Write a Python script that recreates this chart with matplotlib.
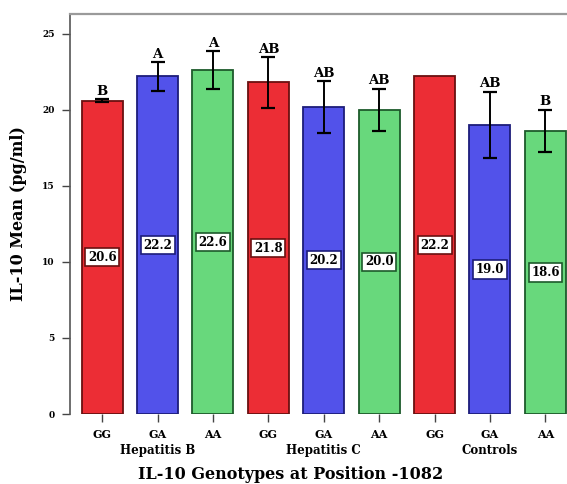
import matplotlib.pyplot as plt
import numpy as np

plt.rcParams['font.family'] = ['DejaVu Serif']

# IL-10 mean levels by genotype at position -1082, per patient group
genotypes = ['GG', 'GA', 'AA', 'GG', 'GA', 'AA', 'GG', 'GA', 'AA']
groups = ['Hepatitis B', 'Hepatitis C', 'Controls']
means = [20.6, 22.2, 22.6, 21.8, 20.2, 20.0, 22.2, 19.0, 18.6]
errors = [0.1, 0.95, 1.25, 1.65, 1.7, 1.4, 0.0, 2.2, 1.4]
letters = ['B', 'A', 'A', 'AB', 'AB', 'AB', '', 'AB', 'B']

face = {'GG': '#ec2d35', 'GA': '#5252ea', 'AA': '#68d87c'}
edge = {'GG': '#6a1010', 'GA': '#1c1c7a', 'AA': '#1d5a2b'}


def main():
    fig = plt.figure(figsize=(5.67, 4.84), dpi=100)
    ax = fig.add_axes([0.1235, 0.1446, 0.8765, 0.8265])

    x = np.arange(len(means))
    fcols = [face[g] for g in genotypes]
    ecols = [edge[g] for g in genotypes]
    ax.bar(x, means, width=0.74, color=fcols, edgecolor=ecols, linewidth=1.3, zorder=2)

    # error bars, skipping the group without spread
    for xi, m, e in zip(x, means, errors):
        if e > 0:
            ax.errorbar(xi, m, yerr=e, color='black', capsize=5, capthick=1.6,
                        elinewidth=1.4, zorder=3)

    # significance letters over each bar
    for xi, m, e, lab in zip(x, means, errors, letters):
        if lab:
            ax.annotate(lab, (xi, m + e), xytext=(0, 1), textcoords='offset points',
                        ha='center', va='bottom', fontsize=9.5, fontweight='bold', zorder=4)

    # boxed value labels half way up the bars
    for xi, m, ec in zip(x, means, ecols):
        ax.text(xi, m / 2, f'{m:.1f}', ha='center', va='center', fontsize=8.5,
                fontweight='bold', zorder=4,
                bbox=dict(boxstyle='square,pad=0.22', facecolor='white',
                          edgecolor=ec, linewidth=1.2))

    ax.set_xlim(-0.58, 8.39)
    ax.set_ylim(0, 26.3)
    ax.set_xticks(x)
    ax.set_xticklabels(genotypes, fontsize=8, fontweight='bold')
    ax.set_yticks([0, 5, 10, 15, 20, 25])
    ax.set_yticklabels(['0', '5', '10', '15', '20', '25'], fontsize=6.5, fontweight='bold')
    ax.tick_params(axis='both', length=6, width=1, color='#444444', pad=5)

    for i, g in enumerate(groups):
        ax.text(3 * i + 1, -0.09, g, transform=ax.get_xaxis_transform(),
                ha='center', va='center', fontsize=8.5, fontweight='bold')

    fig.text(0.512, 0.02, 'IL-10 Genotypes at Position -1082',
             ha='center', va='center', fontsize=11.5, fontweight='bold')
    ax.set_ylabel('IL-10 Mean (pg/ml)', fontsize=11.5, fontweight='bold', labelpad=11)

    ax.spines['bottom'].set_visible(False)
    ax.spines['right'].set_visible(False)
    ax.spines['left'].set_color('#555555')
    ax.spines['left'].set_linewidth(1.2)
    ax.spines['top'].set_color('#9a9a9a')
    ax.spines['top'].set_linewidth(1.6)

    fig.savefig('out.png', dpi=100)


if __name__ == '__main__':
    main()
